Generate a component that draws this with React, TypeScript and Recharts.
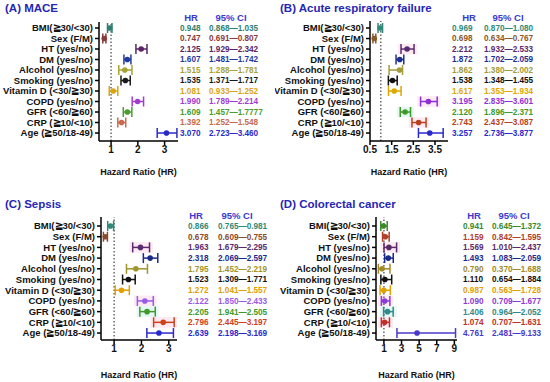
import React from 'react';
import { ScatterChart, Scatter, XAxis, YAxis, ErrorBar, ReferenceLine, ReferenceArea, Label } from 'recharts';

const labels = [
  'BMI(≧30/<30)', 'Sex (F/M)', 'HT (yes/no)', 'DM (yes/no)', 'Alcohol (yes/no)', 'Smoking (yes/no)',
  'Vitamin D (<30/≧30)', 'COPD (yes/no)', 'GFR (<60/≧60)', 'CRP (≧10/<10)', 'Age (≧50/18-49)',
];

// (A) MACE
const maceHR = [0.948, 0.747, 2.125, 1.607, 1.515, 1.535, 1.081, 1.99, 1.609, 1.392, 3.07];
const maceLo = [0.868, 0.691, 1.929, 1.481, 1.288, 1.371, 0.933, 1.789, 1.457, 1.252, 2.723];
const maceHi = [1.035, 0.807, 2.342, 1.742, 1.781, 1.717, 1.252, 2.214, 1.777, 1.548, 3.46];
const maceCI = ['0.868—1.035', '0.691—0.807', '1.929—2.342', '1.481—1.742', '1.288—1.781', '1.371—1.717',
  '0.933—1.252', '1.789—2.214', '1.457—1.7777', '1.252—1.548', '2.723—3.460'];

// (B) Acute respiratory failure
const arfHR = [0.969, 0.698, 2.212, 1.872, 1.862, 1.538, 1.617, 3.195, 2.12, 2.743, 3.257];
const arfLo = [0.87, 0.634, 1.932, 1.702, 1.38, 1.348, 1.353, 2.835, 1.896, 2.437, 2.736];
const arfHi = [1.08, 0.767, 2.533, 2.059, 2.002, 1.755, 1.934, 3.601, 2.371, 3.087, 3.877];
const arfCI = ['0.870—1.080', '0.634—0.767', '1.932—2.533', '1.702—2.059', '1.380—2.002', '1.348—1.455',
  '1.353—1.934', '2.835—3.601', '1.896—2.371', '2.437—3.087', '2.736—3.877'];

// (C) Sepsis
const sepHR = [0.866, 0.678, 1.963, 2.318, 1.795, 1.523, 1.272, 2.122, 2.205, 2.796, 2.639];
const sepLo = [0.765, 0.609, 1.679, 2.069, 1.452, 1.309, 1.041, 1.85, 1.941, 2.445, 2.198];
const sepHi = [0.981, 0.755, 2.295, 2.597, 2.219, 1.771, 1.557, 2.433, 2.505, 3.197, 3.169];
const sepCI = ['0.765—0.981', '0.609—0.755', '1.679—2.295', '2.069—2.597', '1.452—2.219', '1.309—1.771',
  '1.041—1.557', '1.850—2.433', '1.941—2.505', '2.445—3.197', '2.198—3.169'];

// (D) Colorectal cancer
const crcHR = [0.941, 1.159, 1.569, 1.493, 0.79, 1.11, 0.987, 1.09, 1.406, 1.074, 4.761];
const crcLo = [0.645, 0.842, 1.01, 1.083, 0.37, 0.654, 0.563, 0.709, 0.964, 0.707, 2.481];
const crcHi = [1.372, 1.595, 2.437, 2.059, 1.688, 1.884, 1.728, 1.677, 2.052, 1.631, 9.133];
const crcCI = ['0.645—1.372', '0.842—1.595', '1.010—2.437', '1.083—2.059', '0.370—1.688', '0.654—1.884',
  '0.563—1.728', '0.709—1.677', '0.964—2.052', '0.707—1.631', '2.481—9.133'];

const colorsA = ['#2f7f6f', '#8a3b3b', '#5b2466', '#1f3a9c', '#a7a236', '#1a1a1a', '#d9a514', '#a23ccf', '#4c9c2e', '#c86a4e', '#2a2ac8'];
const colorsB = ['#2f8a7a', '#8b5a2b', '#5a2a70', '#1f2f8f', '#a59a3a', '#111111', '#e0a800', '#8e2fd6', '#3f9a2a', '#b8401f', '#2a2acc'];
const colorsC = ['#2f8a7a', '#8b4a2b', '#5a2a70', '#1a2a8a', '#a0952a', '#111111', '#e0a000', '#9a5ae6', '#3f9a2a', '#d0401a', '#2a2acc'];
const colorsD = ['#3a8a2a', '#b0402a', '#5a2a6a', '#1a2a8a', '#a08a2a', '#111111', '#e0a000', '#8a3ad6', '#2f8a8a', '#c0302a', '#4a3acc'];

// faint row highlights seen behind some rows (row index -> tint)
const highlightRows = [2, 7, 8, 9];
const highlightTint = ['#fdeaf2', '#fdeaf2', '#e5f7f4', '#fdeaf2'];

const FONT = '"Liberation Sans", Arial, Helvetica, sans-serif';
const TITLE_COLOR = '#2626b4';

const panels = [
  { title: '(A) MACE', hr: maceHR, lo: maceLo, hi: maceHi, ci: maceCI, colors: colorsA, tint: false,
    left: 0, top: 0, titleTop: 1, plotL: 99, plotR: 178, mTop: 22, axisH: 50, yDom: [-0.57, 10.76],
    xDom: [0.55, 3.5], xTicks: [1, 2, 3], hrX: 180, ciX: 209, hrHX: 191, ciHX: 231, labOff: 16, pad: 0.12 },
  { title: '(B) Acute respiratory failure', hr: arfHR, lo: arfLo, hi: arfHi, ci: arfCI, colors: colorsB, tint: true,
    left: 275, top: 0, titleTop: 1, plotL: 95, plotR: 173, mTop: 21, axisH: 50, yDom: [-0.67, 10.76],
    xDom: [0.5, 4.1], xTicks: [0.5, 1.5, 2.5, 3.5], hrX: 177, ciX: 209, hrHX: 194, ciHX: 233, labOff: 16, pad: 0.15 },
  { title: '(C) Sepsis', hr: sepHR, lo: sepLo, hi: sepHi, ci: sepCI, colors: colorsC, tint: true,
    left: 0, top: 191, titleTop: 6, plotL: 101, plotR: 177, mTop: 26, axisH: 42, yDom: [-0.84, 10.65],
    xDom: [0.52, 3.3], xTicks: [1, 2, 3], hrX: 188, ciX: 218, hrHX: 196, ciHX: 237, labOff: 4, pad: 0.12 },
  { title: '(D) Colorectal cancer', hr: crcHR, lo: crcLo, hi: crcHi, ci: crcCI, colors: colorsD, tint: true,
    left: 275, top: 191, titleTop: 6, plotL: 101, plotR: 182, mTop: 26, axisH: 42, yDom: [-0.84, 10.65],
    xDom: [0.1, 9.3], xTicks: [1, 3, 5, 7, 9], hrX: 188, ciX: 217, hrHX: 199, ciHX: 239, labOff: 4, pad: 0.4 },
];

const rowIdx = labels.map((_, i) => i);

function RowTick(props: any) {
  const { x, y, payload, cfg } = props;
  const i = payload.value as number;
  return (
    <g>
      <text x={x} y={y} dy="0.35em" textAnchor="end" fontSize={9.5} fontWeight="bold" fill="#111" fontFamily={FONT}>
        {labels[i]}
      </text>
      <text x={cfg.hrX} y={y} dy="0.35em" textAnchor="start" fontSize={8.2} fontWeight="bold" fill={cfg.colors[i]} fontFamily={FONT}>
        {cfg.hr[i].toFixed(3)}
      </text>
      <text x={cfg.ciX} y={y} dy="0.35em" textAnchor="start" fontSize={8.2} fontWeight="bold" fill={cfg.colors[i]} fontFamily={FONT}>
        {cfg.ci[i]}
      </text>
      {i === 0 && (
        <g>
          <text x={cfg.hrHX} y={y - 10} dy="0.35em" textAnchor="middle" fontSize={9.5} fontWeight="bold" fill="#3a3acc" fontFamily={FONT}>HR</text>
          <text x={cfg.ciHX} y={y - 10} dy="0.35em" textAnchor="middle" fontSize={9.5} fontWeight="bold" fill="#3a3acc" fontFamily={FONT}>95% CI</text>
        </g>
      )}
    </g>
  );
}

function Panel({ cfg }: { cfg: any }) {
  const W = 275;
  const H = 191;
  return (
    <div style={{ position: 'absolute', left: cfg.left, top: cfg.top, width: W, height: H }}>
      <div style={{ position: 'absolute', left: 5, top: cfg.titleTop, fontFamily: FONT, fontWeight: 'bold', fontSize: 11.5,
        color: TITLE_COLOR, whiteSpace: 'nowrap', lineHeight: '14px' }}>{cfg.title}</div>
      <ScatterChart width={W} height={H} margin={{ top: cfg.mTop, right: W - cfg.plotR, left: 0, bottom: 0 }}>
        {cfg.tint && highlightRows.map((r, k) => (
          <ReferenceArea key={'h' + k} x1={cfg.lo[r] - cfg.pad} x2={cfg.hi[r] + cfg.pad} y1={r - 0.5} y2={r + 0.5}
            fill={highlightTint[k]} fillOpacity={1} stroke="none" ifOverflow="hidden" />
        ))}
        <XAxis type="number" dataKey="hr" domain={cfg.xDom} ticks={cfg.xTicks} allowDataOverflow
          height={cfg.axisH} tickSize={4} tickMargin={1} interval={0}
          axisLine={{ stroke: '#000', strokeWidth: 1.5 }} tickLine={{ stroke: '#000', strokeWidth: 1.5 }}
          tick={{ fontSize: 10, fontWeight: 'bold', fill: '#111', fontFamily: FONT }}>
          <Label value="Hazard Ratio (HR)" position="insideBottom" offset={cfg.labOff}
            style={{ fontSize: 9, fontWeight: 'bold', fill: '#111', fontFamily: FONT }} />
        </XAxis>
        <YAxis type="number" dataKey="idx" domain={cfg.yDom} ticks={rowIdx} reversed allowDataOverflow
          width={cfg.plotL} tickSize={4} tickMargin={2} interval={0}
          axisLine={{ stroke: '#000', strokeWidth: 1.5 }} tickLine={{ stroke: '#000', strokeWidth: 1.5 }}
          tick={(p: any) => <RowTick {...p} cfg={cfg} />} />
        <ReferenceLine x={1} stroke="#444" strokeWidth={1.2} strokeDasharray="1.5 2" />
        {rowIdx.map((i) => {
          const color = cfg.colors[i];
          const data = [{ hr: cfg.hr[i], idx: i, err: [cfg.hr[i] - cfg.lo[i], cfg.hi[i] - cfg.hr[i]] }];
          return (
            <Scatter key={i} data={data} fill={color} isAnimationActive={false}
              shape={(p: any) => <circle cx={p.cx} cy={p.cy} r={2.8} fill={color} />}>
              <ErrorBar dataKey="err" direction="x" width={5} strokeWidth={1.5} stroke={color} isAnimationActive={false} />
            </Scatter>
          );
        })}
      </ScatterChart>
    </div>
  );
}

export default function App() {
  return (
    <div style={{ position: 'absolute', left: 0, top: 0, width: 550, height: 382, background: '#fff', fontFamily: FONT }}>
      {panels.map((cfg, k) => <Panel key={k} cfg={cfg} />)}
    </div>
  );
}
